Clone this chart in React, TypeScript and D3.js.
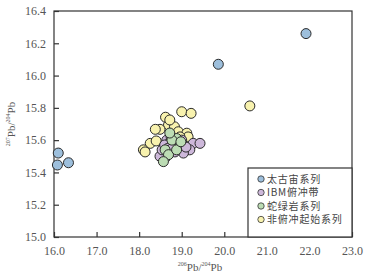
import { useEffect, useRef } from 'react';
import * as d3 from 'd3';

const X_TICKS = [16, 17, 18, 19, 20, 21, 22, 23];
const Y_TICKS = [15.0, 15.2, 15.4, 15.6, 15.8, 16.0, 16.2, 16.4];

const SERIES_NAMES = ['太古宙系列', 'IBM俯冲带', '蛇绿岩系列', '非俯冲起始系列'];
const SERIES_COLORS = ['#9dbfdc', '#cdb8da', '#bcdcb4', '#f8f2ae'];

// [206Pb/204Pb, 207Pb/204Pb]
const ARCHEAN = [
  [16.1, 15.52], [16.08, 15.446], [16.34, 15.46], [19.86, 16.07], [21.92, 16.26],
];
const IBM = [
  [19.27, 15.58], [19.43, 15.58], [19.19, 15.54], [19.04, 15.52], [18.61, 15.49],
  [18.49, 15.50], [18.84, 15.527], [18.72, 15.564], [18.96, 15.57], [19.10, 15.557],
  [18.54, 15.54], [18.65, 15.60], [18.70, 15.58], [18.75, 15.62], [18.80, 15.57],
  [18.60, 15.57], [18.68, 15.55], [18.78, 15.55], [19.0, 15.60],
];
const OPHIOLITE = [
  [18.88, 15.61], [18.61, 15.54], [18.69, 15.51], [18.88, 15.54], [18.57, 15.467],
  [18.77, 15.60], [18.98, 15.59], [18.72, 15.644],
];
const NON_SI = [
  [19.0, 15.776], [19.22, 15.766], [18.62, 15.742], [18.69, 15.694], [18.49, 15.667],
  [18.83, 15.683], [18.92, 15.652], [19.12, 15.643], [19.15, 15.62], [18.26, 15.58],
  [18.10, 15.54], [18.14, 15.527], [18.40, 15.595], [18.72, 15.725], [18.96, 15.62],
  [18.38, 15.667], [20.60, 15.812],
];

export default function App() {
  const svgRef = useRef<SVGSVGElement>(null);

  useEffect(() => {
    const W = 370, H = 278;
    const M = { left: 54, right: 18, top: 11, bottom: 41 };
    const svg = d3.select(svgRef.current);
    svg.selectAll('*').remove();

    const x = d3.scaleLinear().domain([16, 23]).range([M.left, W - M.right]);
    const y = d3.scaleLinear().domain([15, 16.4]).range([H - M.bottom, M.top]);
    const serif = '"Liberation Serif", "DejaVu Serif", serif';

    svg.append('rect')
      .attr('x', M.left).attr('y', M.top)
      .attr('width', W - M.left - M.right).attr('height', H - M.top - M.bottom)
      .attr('fill', 'white').attr('stroke', '#333').attr('stroke-width', 1.2);

    // ticks, inward
    const xAxis = d3.axisBottom(x).tickValues(X_TICKS).tickSizeInner(-5).tickSizeOuter(0).tickPadding(9)
      .tickFormat(d => (d as number).toFixed(1));
    svg.append('g').attr('transform', `translate(0,${H - M.bottom})`).call(xAxis)
      .call(g => g.select('.domain').remove())
      .call(g => g.selectAll('.tick line').attr('stroke', '#333').attr('stroke-width', 1.2))
      .call(g => g.selectAll('.tick text').attr('fill', '#555').attr('font-size', 12).attr('font-family', serif));

    const yAxis = d3.axisLeft(y).tickValues(Y_TICKS).tickSizeInner(-5).tickSizeOuter(0).tickPadding(8)
      .tickFormat(d => (d as number).toFixed(1));
    svg.append('g').attr('transform', `translate(${M.left},0)`).call(yAxis)
      .call(g => g.select('.domain').remove())
      .call(g => g.selectAll('.tick line').attr('stroke', '#333').attr('stroke-width', 1.2))
      .call(g => g.selectAll('.tick text').attr('fill', '#555').attr('font-size', 12).attr('font-family', serif));

    // points
    const groups = [NON_SI, IBM, OPHIOLITE, ARCHEAN];
    const colors = [SERIES_COLORS[3], SERIES_COLORS[1], SERIES_COLORS[2], SERIES_COLORS[0]];
    groups.forEach((data, i) => {
      svg.append('g').selectAll('circle').data(data).join('circle')
        .attr('cx', d => x(d[0])).attr('cy', d => y(d[1])).attr('r', 5)
        .attr('fill', colors[i]).attr('stroke', '#2a2a2a').attr('stroke-width', 1);
    });

    // legend
    const lg = svg.append('g');
    lg.append('rect').attr('x', 248).attr('y', 168).attr('width', W - M.right - 248).attr('height', H - M.bottom - 168)
      .attr('fill', 'white').attr('stroke', '#333').attr('stroke-width', 1.2);
    SERIES_NAMES.forEach((name, i) => {
      const cy = 179 + i * 13.5;
      lg.append('circle').attr('cx', 261).attr('cy', cy).attr('r', 3.2)
        .attr('fill', SERIES_COLORS[i]).attr('stroke', '#333').attr('stroke-width', 0.8);
      lg.append('text').attr('x', 267).attr('y', cy + 3.5).attr('font-size', 10)
        .attr('letter-spacing', 0.8)
        .attr('font-family', '"Noto Sans CJK SC", sans-serif').attr('fill', '#444').text(name);
    });

    // axis labels
    const xl = svg.append('text').attr('x', 200).attr('y', 271).attr('text-anchor', 'middle')
      .attr('font-family', serif).attr('font-size', 11).attr('fill', '#555');
    xl.append('tspan').attr('font-size', 6).attr('dy', -5).text('206');
    xl.append('tspan').attr('dy', 5).text('Pb/');
    xl.append('tspan').attr('font-size', 6).attr('dy', -5).text('204');
    xl.append('tspan').attr('dy', 5).text('Pb');

    const yl = svg.append('text').attr('transform', `translate(15,${(M.top + H - M.bottom) / 2}) rotate(-90)`)
      .attr('text-anchor', 'middle').attr('font-family', serif).attr('font-size', 11).attr('fill', '#555');
    yl.append('tspan').attr('font-size', 6).attr('dy', -5).text('207');
    yl.append('tspan').attr('dy', 5).text('Pb/');
    yl.append('tspan').attr('font-size', 6).attr('dy', -5).text('204');
    yl.append('tspan').attr('dy', 5).text('Pb');
  }, []);

  return (
    <svg ref={svgRef} width={370} height={278}
      style={{ position: 'absolute', left: 0, top: 0, background: 'white' }} />
  );
}
